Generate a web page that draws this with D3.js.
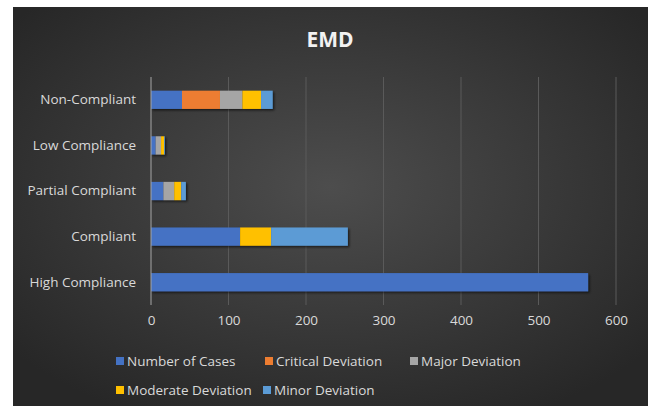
<!DOCTYPE html>
<html>
<head>
<meta charset="utf-8">
<script src="https://cdn.jsdelivr.net/npm/d3@7/dist/d3.min.js"></script>
<style>
  html, body { margin: 0; padding: 0; background: #ffffff; }
  svg { display: block; }
  text { font-family: "Open Sans", "Noto Sans", sans-serif; }
</style>
</head>
<body>
<svg id="chart" width="648" height="406"></svg>
<script>
// Compliance categories, listed top to bottom
const categories = ["Non-Compliant", "Low Compliance", "Partial Compliant", "Compliant", "High Compliance"];

// Stacked series
const seriesNames = ["Number of Cases", "Critical Deviation", "Major Deviation", "Moderate Deviation", "Minor Deviation"];
const numberOfCases     = [40, 6, 16, 115, 564];
const criticalDeviation = [49, 0, 0, 0, 0];
const majorDeviation    = [29, 7, 14, 0, 0];
const moderateDeviation = [24, 4, 9, 40, 0];
const minorDeviation    = [15, 1, 6, 99, 0];
const seriesColors = ["#4472C4", "#ED7D31", "#A5A5A5", "#FFC000", "#5B9BD5"];

const xTicks = [0, 100, 200, 300, 400, 500, 600];

const W = 648, H = 406;
const svg = d3.select("#chart");
const labelFont = "'Open Sans', 'Noto Sans', sans-serif";

// Background panel with a soft radial gradient
const defs = svg.append("defs");
const grad = defs.append("radialGradient").attr("id", "bg")
  .attr("cx", "50%").attr("cy", "45%").attr("r", "65%");
grad.append("stop").attr("offset", "0%").attr("stop-color", "#4d4d4d");
grad.append("stop").attr("offset", "100%").attr("stop-color", "#272727");

const shadow = defs.append("filter").attr("id", "shadow")
  .attr("x", "-5%").attr("y", "-30%").attr("width", "115%").attr("height", "180%");
shadow.append("feDropShadow").attr("dx", 1.5).attr("dy", 1.5)
  .attr("stdDeviation", 1.2).attr("flood-color", "#000").attr("flood-opacity", 0.6);

svg.append("rect").attr("x", 13).attr("y", 7).attr("width", W - 13).attr("height", H - 7)
  .attr("fill", "url(#bg)");

// Title
svg.append("text").attr("x", 330).attr("y", 47).attr("text-anchor", "middle")
  .attr("font-size", 21).attr("font-weight", "bold").attr("fill", "#f2f2f2").text("EMD");

const plot = { left: 151, right: 616, top: 77, bottom: 305 };

const x = d3.scaleLinear().domain([0, 600]).range([plot.left, plot.right]);
const y = d3.scaleBand().domain(categories).range([plot.top, plot.bottom]).paddingInner(0.6).paddingOuter(0.3);

// Vertical gridlines
svg.append("g").selectAll("line").data(xTicks.slice(1)).join("line")
  .attr("x1", d => x(d)).attr("x2", d => x(d))
  .attr("y1", plot.top).attr("y2", plot.bottom)
  .attr("stroke", "#5a5a5a").attr("stroke-width", 1);

// Stack the series
const rows = categories.map((c, i) => ({
  category: c,
  "Number of Cases": numberOfCases[i],
  "Critical Deviation": criticalDeviation[i],
  "Major Deviation": majorDeviation[i],
  "Moderate Deviation": moderateDeviation[i],
  "Minor Deviation": minorDeviation[i]
}));
const stacked = d3.stack().keys(seriesNames)(rows);

const barsG = svg.append("g").attr("filter", "url(#shadow)");
barsG.selectAll("g").data(stacked).join("g")
  .attr("fill", (d, i) => seriesColors[i])
  .selectAll("rect").data(d => d.filter(s => s[1] > s[0])).join("rect")
  .attr("x", d => x(d[0]))
  .attr("width", d => x(d[1]) - x(d[0]))
  .attr("y", d => y(d.data.category))
  .attr("height", y.bandwidth());

// Value axis line at zero
svg.append("line").attr("x1", x(0)).attr("x2", x(0))
  .attr("y1", plot.top).attr("y2", plot.bottom)
  .attr("stroke", "#a6a6a6").attr("stroke-width", 1);

// X axis labels
const xAxis = d3.axisBottom(x).tickValues(xTicks).tickSize(0).tickPadding(0);
const xg = svg.append("g").attr("transform", `translate(0,${plot.bottom + 20})`).call(xAxis);
xg.select(".domain").remove();
xg.selectAll("text").attr("font-size", 13.5).attr("fill", "#d9d9d9")
  .attr("font-family", labelFont).attr("dy", "0");

// Y axis labels
const yAxis = d3.axisLeft(y).tickSize(0).tickPadding(15);
const yg = svg.append("g").attr("transform", `translate(${plot.left},0)`).call(yAxis);
yg.select(".domain").remove();
yg.selectAll("text").attr("font-size", 13.5).attr("fill", "#d9d9d9")
  .attr("font-family", labelFont);

// Legend
const legendPos = [
  { x: 116, y: 361 }, { x: 265, y: 361 }, { x: 410, y: 361 },
  { x: 116, y: 390 }, { x: 263, y: 390 }
];
const lg = svg.append("g").selectAll("g").data(seriesNames).join("g")
  .attr("transform", (d, i) => `translate(${legendPos[i].x},${legendPos[i].y})`);
lg.append("rect").attr("x", 0).attr("y", -4).attr("width", 8).attr("height", 8)
  .attr("fill", (d, i) => seriesColors[i]);
lg.append("text").attr("x", 11).attr("y", 0).attr("dy", "0.35em")
  .attr("font-size", 13.5).attr("fill", "#d9d9d9").text(d => d);
</script>
</body>
</html>
